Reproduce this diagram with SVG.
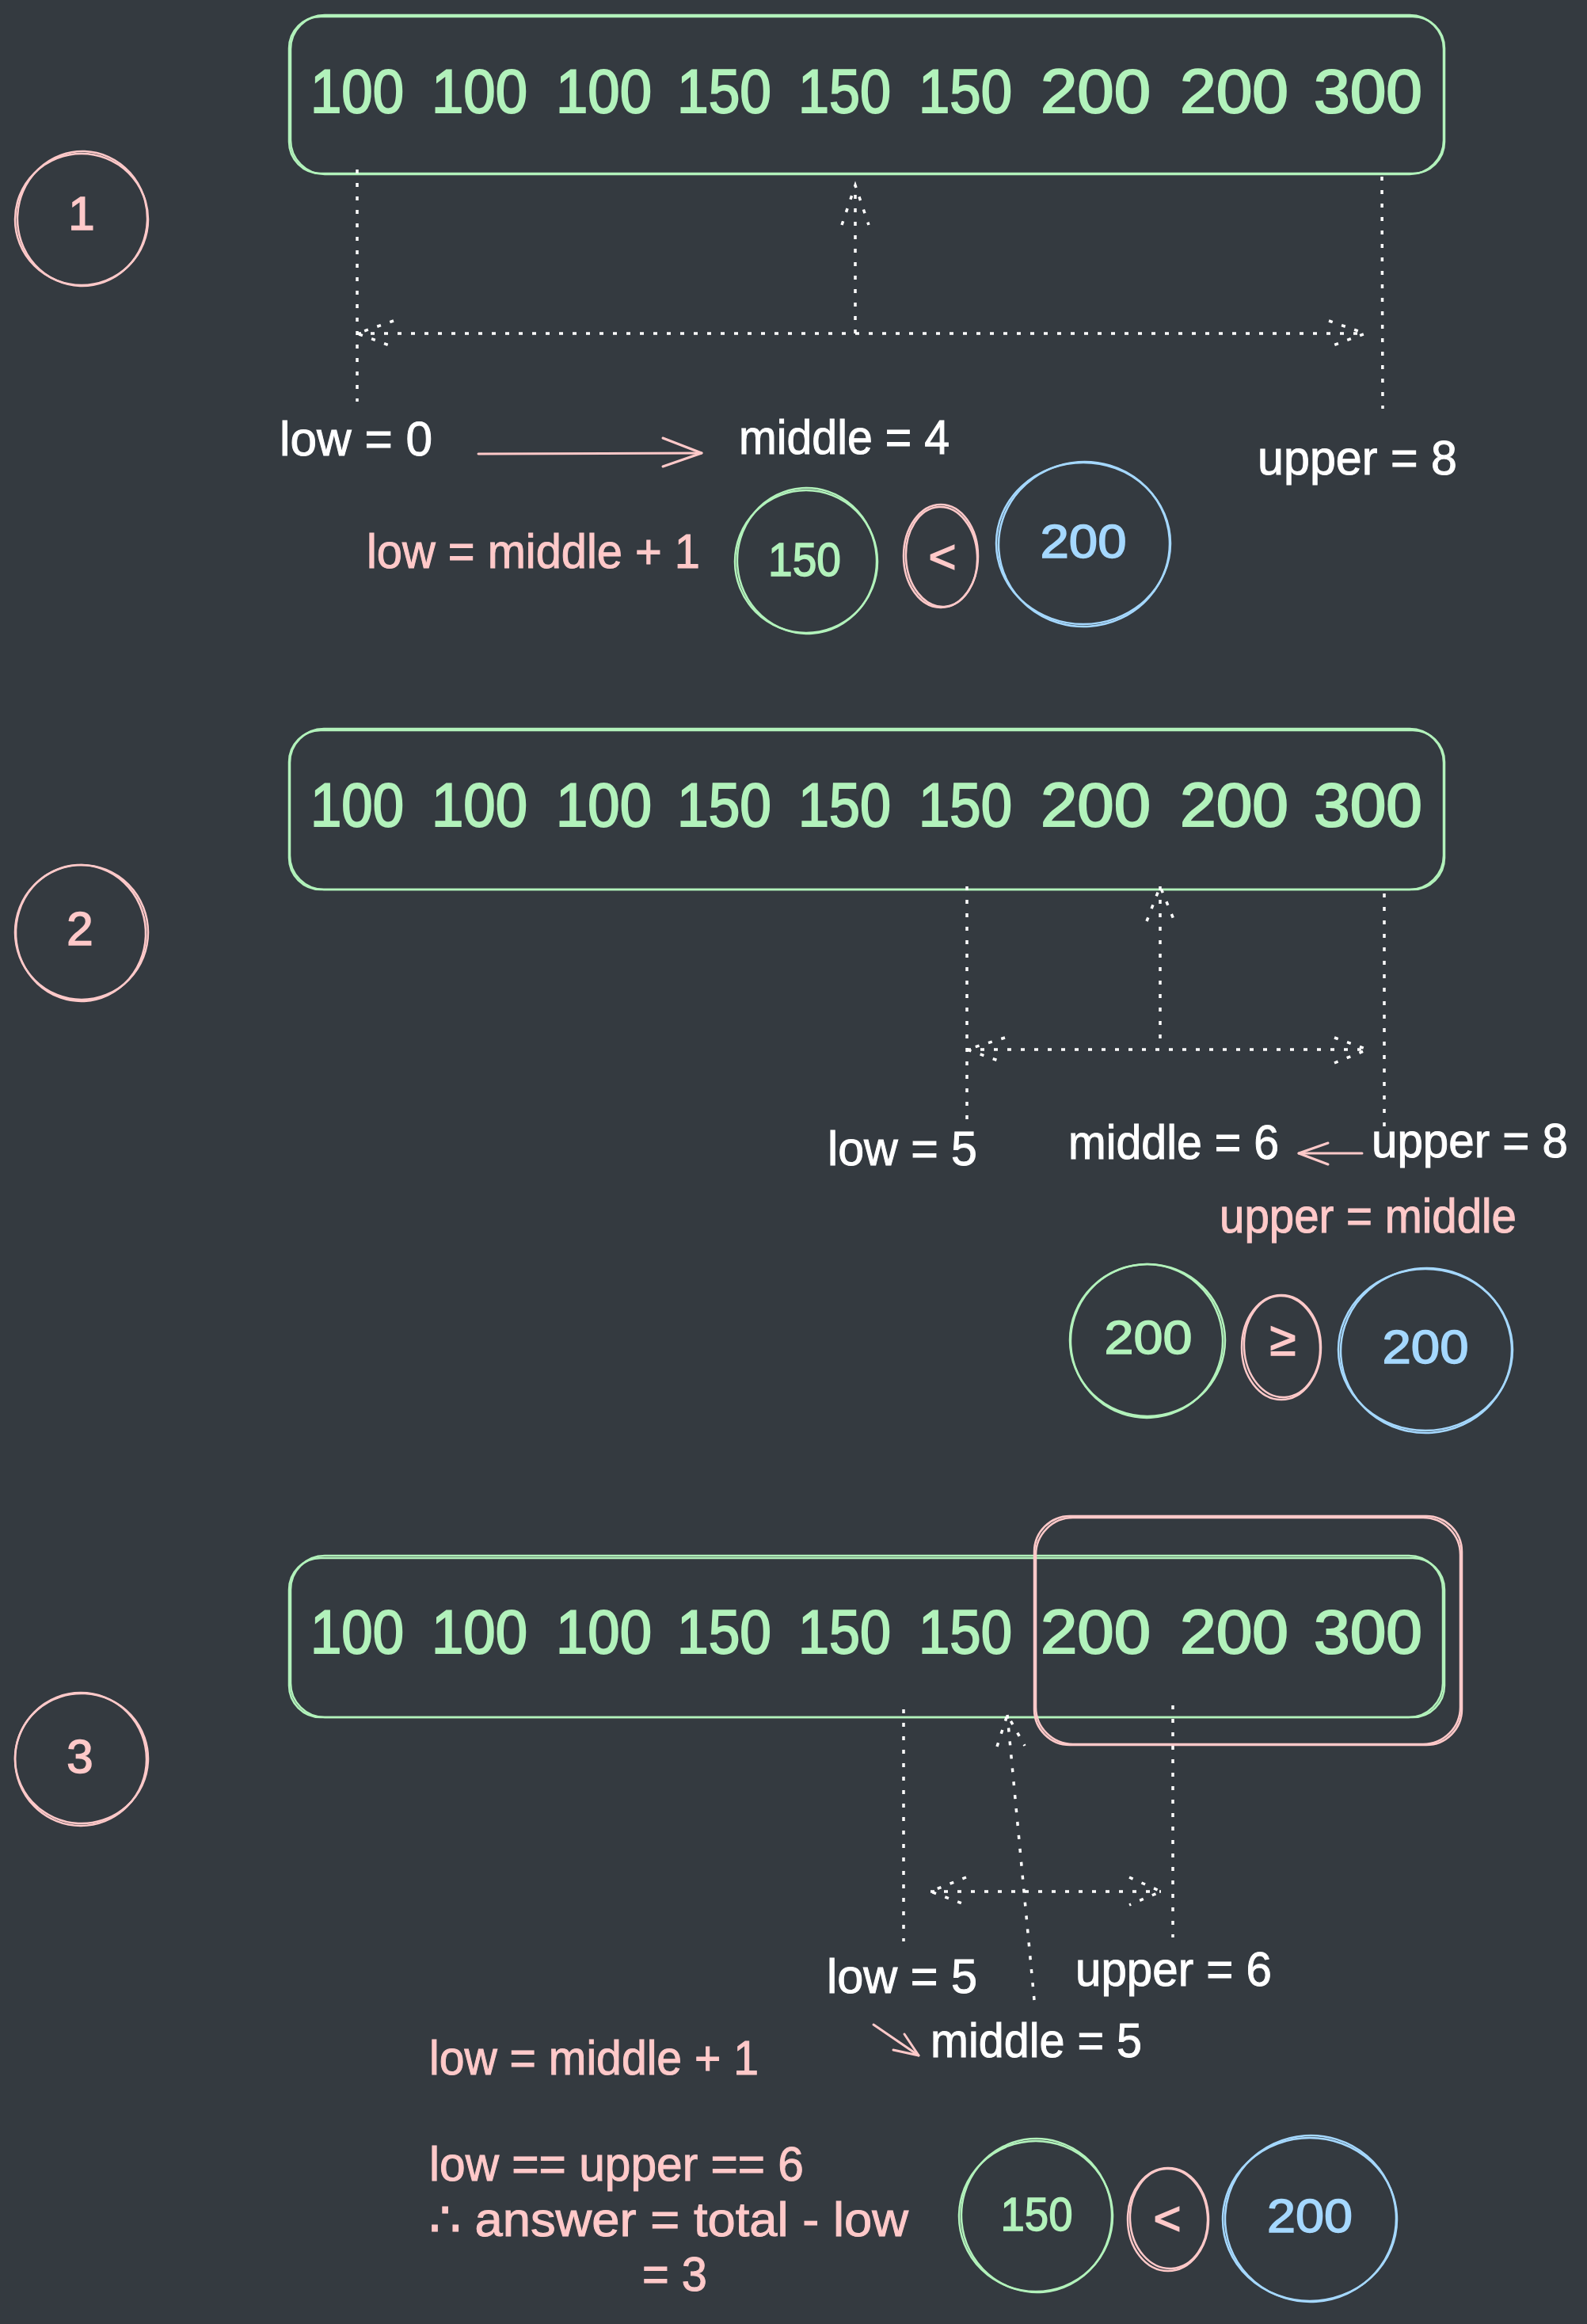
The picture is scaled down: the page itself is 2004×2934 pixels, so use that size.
<svg xmlns="http://www.w3.org/2000/svg" width="2004" height="2934" viewBox="0 0 2004 2934">
<style>
  .bg{fill:#343a40}
  .g{fill:none;stroke:#b2f2bb;stroke-width:2.5}
  .p{fill:none;stroke:#ffc9c9;stroke-width:2.5}
  .b{fill:none;stroke:#a5d8ff;stroke-width:2.5}
  .dot{fill:none;stroke:#ffffff;stroke-width:3.5;stroke-dasharray:5 12}
  .pa{fill:none;stroke:#ffc9c9;stroke-width:3;stroke-linecap:round;stroke-linejoin:round}
  text{font-family:"Liberation Sans","Open Sans",sans-serif}
  .row{font-size:78px;fill:#b2f2bb;stroke:#b2f2bb;stroke-width:2}
  .lw{font-size:62px;fill:#ffffff;stroke:#ffffff;stroke-width:1}
  .lp{font-size:62px;fill:#ffc9c9;stroke:#ffc9c9;stroke-width:1}
  .num{font-size:60px;text-anchor:middle;stroke-width:1.5}
  .tg{fill:#b2f2bb;stroke:#b2f2bb}
  .tp{fill:#ffc9c9;stroke:#ffc9c9}
  .tb{fill:#a5d8ff;stroke:#a5d8ff}
</style>
<rect class="bg" x="0" y="0" width="2004" height="2934"/>

<!-- Section 1 -->
<g id="step1">
  <ellipse class="p" cx="103" cy="277" rx="84" ry="83"/>
  <ellipse class="p" cx="104" cy="276" rx="82" ry="85" transform="rotate(2 104 276)"/>
  <text class="num tp" x="103" y="290">1</text>
</g>
<g id="array1">
  <rect class="g" x="365" y="21" width="1459" height="198" rx="40"/>
  <rect class="g" x="367" y="19" width="1456" height="201" rx="43"/>
  <text class="row" y="142"><tspan x="392" textLength="118" lengthAdjust="spacingAndGlyphs">100</tspan> <tspan x="545" textLength="121" lengthAdjust="spacingAndGlyphs">100</tspan> <tspan x="702" textLength="121" lengthAdjust="spacingAndGlyphs">100</tspan> <tspan x="855" textLength="119" lengthAdjust="spacingAndGlyphs">150</tspan> <tspan x="1008" textLength="117" lengthAdjust="spacingAndGlyphs">150</tspan> <tspan x="1160" textLength="118" lengthAdjust="spacingAndGlyphs">150</tspan> <tspan x="1314" textLength="139" lengthAdjust="spacingAndGlyphs">200</tspan> <tspan x="1490" textLength="137" lengthAdjust="spacingAndGlyphs">200</tspan> <tspan x="1659" textLength="137" lengthAdjust="spacingAndGlyphs">300</tspan></text>
</g>
<g id="low1"><text class="lw" x="353" y="575" textLength="193" lengthAdjust="spacingAndGlyphs">low = 0</text></g>
<g id="middle1"><text class="lw" x="933" y="573" textLength="266" lengthAdjust="spacingAndGlyphs">middle = 4</text></g>
<g id="upper1"><text class="lw" x="1588" y="599" textLength="252" lengthAdjust="spacingAndGlyphs">upper = 8</text></g>
<g id="rule1"><text class="lp" x="463" y="717" textLength="421" lengthAdjust="spacingAndGlyphs">low = middle + 1</text></g>
<g id="cmp1a">
  <ellipse class="g" cx="1018" cy="709" rx="90" ry="90"/>
  <ellipse class="g" cx="1019" cy="708" rx="88" ry="92" transform="rotate(-4 1019 708)"/>
  <text class="num tg" x="1016" y="727" textLength="92" lengthAdjust="spacingAndGlyphs">150</text>
</g>
<g id="cmp1op">
  <ellipse class="p" cx="1188" cy="702" rx="47" ry="65"/>
  <ellipse class="p" cx="1189" cy="703" rx="45" ry="63" transform="rotate(-3 1189 703)"/>
  <text class="num tp" x="1190" y="723">&lt;</text>
</g>
<g id="cmp1b">
  <ellipse class="b" cx="1368" cy="686" rx="110" ry="102"/>
  <ellipse class="b" cx="1369" cy="687" rx="108" ry="104" transform="rotate(-4 1369 687)"/>
  <text class="num tb" x="1368" y="704" textLength="109" lengthAdjust="spacingAndGlyphs">200</text>
</g>

<!-- Section 2 -->
<g id="step2">
  <ellipse class="p" cx="103" cy="1177" rx="84" ry="85"/>
  <ellipse class="p" cx="102" cy="1178" rx="82" ry="86" transform="rotate(-3 102 1178)"/>
  <text class="num tp" x="101" y="1193">2</text>
</g>
<g id="array2">
  <rect class="g" x="365" y="922" width="1459" height="201" rx="40"/>
  <rect class="g" x="366" y="920" width="1457" height="203" rx="43"/>
  <text class="row" y="1043"><tspan x="392" textLength="118" lengthAdjust="spacingAndGlyphs">100</tspan> <tspan x="545" textLength="121" lengthAdjust="spacingAndGlyphs">100</tspan> <tspan x="702" textLength="121" lengthAdjust="spacingAndGlyphs">100</tspan> <tspan x="855" textLength="119" lengthAdjust="spacingAndGlyphs">150</tspan> <tspan x="1008" textLength="117" lengthAdjust="spacingAndGlyphs">150</tspan> <tspan x="1160" textLength="118" lengthAdjust="spacingAndGlyphs">150</tspan> <tspan x="1314" textLength="139" lengthAdjust="spacingAndGlyphs">200</tspan> <tspan x="1490" textLength="137" lengthAdjust="spacingAndGlyphs">200</tspan> <tspan x="1659" textLength="137" lengthAdjust="spacingAndGlyphs">300</tspan></text>
</g>
<g id="low2"><text class="lw" x="1045" y="1471" textLength="189" lengthAdjust="spacingAndGlyphs">low = 5</text></g>
<g id="middle2"><text class="lw" x="1349" y="1463" textLength="266" lengthAdjust="spacingAndGlyphs">middle = 6</text></g>
<g id="upper2"><text class="lw" x="1732" y="1461" textLength="248" lengthAdjust="spacingAndGlyphs">upper = 8</text></g>
<g id="rule2"><text class="lp" x="1540" y="1556" textLength="375" lengthAdjust="spacingAndGlyphs">upper = middle</text></g>
<g id="cmp2a">
  <ellipse class="g" cx="1449" cy="1692" rx="98" ry="96"/>
  <ellipse class="g" cx="1448" cy="1693" rx="96" ry="97" transform="rotate(-3 1448 1693)"/>
  <text class="num tg" x="1450" y="1709" textLength="111" lengthAdjust="spacingAndGlyphs">200</text>
</g>
<g id="cmp2op">
  <ellipse class="p" cx="1618" cy="1701" rx="50" ry="66"/>
  <ellipse class="p" cx="1619" cy="1700" rx="48" ry="64" transform="rotate(-3 1619 1700)"/>
  <text class="num tp" x="1620" y="1711">≥</text>
</g>
<g id="cmp2b">
  <ellipse class="b" cx="1800" cy="1704" rx="110" ry="102"/>
  <ellipse class="b" cx="1801" cy="1705" rx="108" ry="104" transform="rotate(-4 1801 1705)"/>
  <text class="num tb" x="1800" y="1721" textLength="109" lengthAdjust="spacingAndGlyphs">200</text>
</g>

<!-- Section 3 -->
<g id="step3">
  <ellipse class="p" cx="102" cy="2221" rx="83" ry="84"/>
  <ellipse class="p" cx="103" cy="2220" rx="84" ry="82" transform="rotate(3 103 2220)"/>
  <text class="num tp" x="101" y="2238">3</text>
</g>
<g id="array3">
  <rect class="g" x="365" y="1967" width="1459" height="201" rx="40"/>
  <rect class="g" x="367" y="1964" width="1455" height="204" rx="43"/>
  <text class="row" y="2087"><tspan x="392" textLength="118" lengthAdjust="spacingAndGlyphs">100</tspan> <tspan x="545" textLength="121" lengthAdjust="spacingAndGlyphs">100</tspan> <tspan x="702" textLength="121" lengthAdjust="spacingAndGlyphs">100</tspan> <tspan x="855" textLength="119" lengthAdjust="spacingAndGlyphs">150</tspan> <tspan x="1008" textLength="117" lengthAdjust="spacingAndGlyphs">150</tspan> <tspan x="1160" textLength="118" lengthAdjust="spacingAndGlyphs">150</tspan> <tspan x="1314" textLength="139" lengthAdjust="spacingAndGlyphs">200</tspan> <tspan x="1490" textLength="137" lengthAdjust="spacingAndGlyphs">200</tspan> <tspan x="1659" textLength="137" lengthAdjust="spacingAndGlyphs">300</tspan></text>
</g>
<g id="range3">
  <rect class="p" x="1306" y="1914" width="540" height="289" rx="45"/>
  <rect class="p" x="1308" y="1916" width="536" height="286" rx="47"/>
</g>
<g id="low3"><text class="lw" x="1044" y="2516" textLength="190" lengthAdjust="spacingAndGlyphs">low = 5</text></g>
<g id="upper3"><text class="lw" x="1358" y="2507" textLength="248" lengthAdjust="spacingAndGlyphs">upper = 6</text></g>
<g id="middle3"><text class="lw" x="1175" y="2597" textLength="267" lengthAdjust="spacingAndGlyphs">middle = 5</text></g>
<g id="rule3"><text class="lp" x="542" y="2619" textLength="416" lengthAdjust="spacingAndGlyphs">low = middle + 1</text></g>
<g id="conclusion">
  <text class="lp" x="542" y="2753" textLength="473" lengthAdjust="spacingAndGlyphs">low == upper == 6</text>
  <text class="lp" x="542" y="2823" textLength="605" lengthAdjust="spacingAndGlyphs">∴ answer = total - low</text>
  <text class="lp" x="811" y="2892" textLength="82" lengthAdjust="spacingAndGlyphs">= 3</text>
</g>
<g id="cmp3a">
  <ellipse class="g" cx="1308" cy="2798" rx="97" ry="95"/>
  <ellipse class="g" cx="1309" cy="2797" rx="95" ry="97" transform="rotate(-5 1309 2797)"/>
  <text class="num tg" x="1309" y="2816" textLength="91" lengthAdjust="spacingAndGlyphs">150</text>
</g>
<g id="cmp3op">
  <ellipse class="p" cx="1475" cy="2802" rx="51" ry="65"/>
  <ellipse class="p" cx="1476" cy="2801" rx="49" ry="63" transform="rotate(-3 1476 2801)"/>
  <text class="num tp" x="1474" y="2821">&lt;</text>
</g>
<g id="cmp3b">
  <ellipse class="b" cx="1654" cy="2802" rx="110" ry="103"/>
  <ellipse class="b" cx="1655" cy="2801" rx="108" ry="105" transform="rotate(-4 1655 2801)"/>
  <text class="num tb" x="1654" y="2818" textLength="108" lengthAdjust="spacingAndGlyphs">200</text>
</g>

<!-- Connectors -->
<g id="connectors">
  <!-- section 1 -->
  <path class="dot" d="M451 214 L451 507"/>
  <path class="dot" d="M1745 223 L1746 516"/>
  <path class="dot" d="M451 421 L1724 421"/>
  <path class="dot" d="M497 405 L451 421 L497 438"/>
  <path class="dot" d="M1678 405 L1724 421 L1678 438"/>
  <path class="dot" d="M1080 421 L1080 234"/>
  <path class="dot" d="M1063 284 L1080 234 L1097 284"/>
  <path class="pa" d="M604 573 L886 572"/>
  <path class="pa" d="M837 553 L886 572 L837 589"/>
  <!-- section 2 -->
  <path class="dot" d="M1221 1119 L1221 1413"/>
  <path class="dot" d="M1748 1128 L1748 1422"/>
  <path class="dot" d="M1221 1325 L1727 1325"/>
  <path class="dot" d="M1269 1310 L1221 1325 L1269 1342"/>
  <path class="dot" d="M1685 1310 L1727 1325 L1685 1342"/>
  <path class="dot" d="M1465 1311 L1465 1119"/>
  <path class="dot" d="M1448 1163 L1465 1119 L1483 1163"/>
  <path class="pa" d="M1720 1456 L1640 1456"/>
  <path class="pa" d="M1677 1443 L1640 1456 L1677 1470"/>
  <!-- section 3 -->
  <path class="dot" d="M1141 2158 L1141 2451"/>
  <path class="dot" d="M1481 2153 L1481 2446"/>
  <path class="dot" d="M1306 2525 L1272 2165"/>
  <path class="dot" d="M1259 2205 L1272 2165 L1294 2204"/>
  <path class="dot" d="M1175 2388 L1466 2388"/>
  <path class="dot" d="M1220 2370 L1175 2388 L1220 2405"/>
  <path class="dot" d="M1426 2370 L1466 2388 L1426 2405"/>
  <path class="pa" d="M1103 2556 L1160 2595"/>
  <path class="pa" d="M1142 2568 L1160 2595 L1128 2588"/>
</g>
</svg>
